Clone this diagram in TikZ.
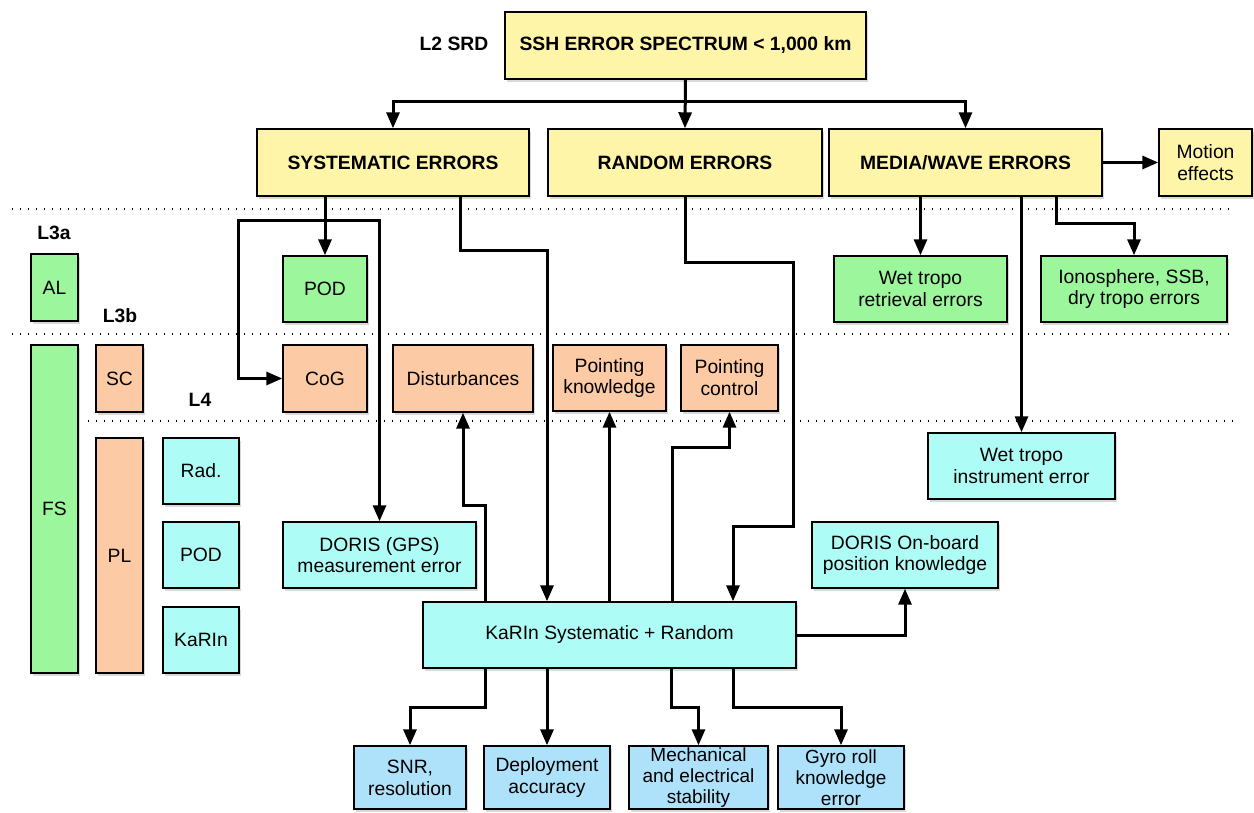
\documentclass[tikz,border=0pt]{standalone}
\usepackage{fontspec}
\setmainfont{Liberation Sans}
\usetikzlibrary{arrows.meta,shadows,calc}
\definecolor{yel}{RGB}{255,245,168}
\definecolor{grn}{RGB}{156,247,156}
\definecolor{pch}{RGB}{252,203,166}
\definecolor{cyn}{RGB}{174,252,246}
\definecolor{blu}{RGB}{174,226,250}
\newcommand\bxat[7]{\node[bx,#6,minimum width={(#4-#2)*1pt},minimum height={(#5-#3)*1pt}] (#1) at ({(#2+#4)/2},{(#3+#5)/2}) {#7};}
\begin{document}
\begin{tikzpicture}[x=1pt,y=-1pt,
  bx/.style={draw=black,line width=1.4pt,inner sep=0pt,align=center,
    font=\fontsize{19.3}{21.8}\selectfont,
    drop shadow={opacity=0.3,shadow xshift=2pt,shadow yshift=-3pt}},
  hd/.style={font=\fontsize{19.3}{23}\selectfont\bfseries},
  lbl/.style={font=\fontsize{19.3}{23}\selectfont\bfseries,inner sep=0pt},
  conn/.style={line width=3pt,line join=miter,line cap=butt},
  arr/.style={conn,-{Triangle[length=16pt,width=13pt]}},
  arrb/.style={conn,{Triangle[length=16pt,width=13pt]}-{Triangle[length=16pt,width=13pt]}},
  dots/.style={line width=1.4pt,dash pattern=on 1.4pt off 6.6pt}]
\useasboundingbox (0,0) rectangle (1254,813);
% level separators
\draw[dots] (12,209) -- (1233,209);
\draw[dots] (12,334) -- (1233,334);
\draw[dots] (88,421) -- (1233,421);
% labels
\node[lbl] (l2) at (454,44) {L2 SRD};
\node[lbl] (l3a) at (54,233) {L3a};
\node[lbl] (l3b) at (120,316) {L3b};
\node[lbl] (l4) at (200,400) {L4};
% top level
\bxat{ssh}{505}{12}{866}{79}{fill=yel,hd}{SSH ERROR SPECTRUM < 1,000 km}
\bxat{sys}{257}{129}{529}{196}{fill=yel,hd}{SYSTEMATIC ERRORS}
\bxat{rnd}{548}{129}{822}{196}{fill=yel,hd}{RANDOM ERRORS}
\bxat{media}{829}{129}{1102}{196}{fill=yel,hd}{MEDIA/WAVE ERRORS}
\bxat{motion}{1159}{129}{1252}{196}{fill=yel}{Motion\\effects}
% L3a
\bxat{al}{31}{254}{78}{321}{fill=grn}{AL}
\bxat{pod1}{283}{256}{367}{322}{fill=grn}{POD}
\bxat{wetret}{834}{256}{1007}{322}{fill=grn}{Wet tropo\\retrieval errors}
\bxat{iono}{1041}{256}{1227}{322}{fill=grn}{Ionosphere, SSB,\\dry tropo errors}
% L3b
\bxat{fs}{31}{345}{78}{673}{fill=grn}{FS}
\bxat{sc}{96}{345}{143}{412}{fill=pch}{SC}
\bxat{pl}{96}{438}{143}{673}{fill=pch}{PL}
\bxat{cog}{283}{345}{367}{412}{fill=pch}{CoG}
\bxat{dist}{393}{345}{533}{412}{fill=pch}{Disturbances}
\bxat{pk}{553}{345}{666}{411}{fill=pch}{Pointing\\knowledge}
\bxat{pc}{681}{345}{778}{411}{fill=pch}{Pointing\\control}
% L4
\bxat{rad}{163}{438}{239}{504}{fill=cyn}{Rad.}
\bxat{pod2}{163}{522}{239}{588}{fill=cyn}{POD}
\bxat{kar}{163}{607}{239}{673}{fill=cyn}{KaRIn}
\bxat{wetins}{928}{433}{1115}{499}{fill=cyn}{Wet tropo\\instrument error}
\bxat{doris}{283}{522}{476}{588}{fill=cyn}{DORIS (GPS)\\measurement error}
\bxat{dob}{812}{522}{998}{588}{fill=cyn}{DORIS On-board\\position knowledge}
\bxat{karin}{423}{602}{796}{668}{fill=cyn}{KaRIn Systematic + Random}
\bxat{snr}{354}{746}{466}{809}{fill=blu}{SNR,\\resolution}
\bxat{dep}{484}{746}{610}{809}{fill=blu}{Deployment\\accuracy}
\bxat{mech}{629}{746}{768}{809}{fill=blu,font=\fontsize{19}{21}\selectfont}{Mechanical\\and electrical\\stability}
\bxat{gyro}{778}{746}{904}{809}{fill=blu,font=\fontsize{19}{21}\selectfont}{Gyro roll\\knowledge\\error}
% connectors: top
\coordinate (j) at (685,102);
\draw[arr] (ssh.south) -- (rnd.north);
\draw[arr] (j) -| (sys.north);
\draw[arr] (j) -| (media.north);
% systematic
\draw[arr] (sys.south -| pod1.north) -- (pod1.north);
\coordinate (c1) at (238,221);
\draw[arrb] (cog.west) -| (c1) -| (doris.north);
\coordinate (s1) at (460,251);
\coordinate (s2) at (547,251);
\draw[arr] (sys.south -| s1) -- (s1) -- (s2) -- (s2 |- karin.north);
% random
\coordinate (r1) at (793,263);
\coordinate (r2) at (733,526);
\draw[arr] (rnd.south) |- (r1) |- (r2) -- (r2 |- karin.north);
% media
\draw[arr] (media.south -| wetret.north) -- (wetret.north);
\draw[arr] (media.south -| wetins.north) -- (wetins.north);
\coordinate (m1) at (1056,224);
\draw[arr] (media.south -| m1) -- (m1) -| (iono.north);
\draw[arr] (media.east) -- (motion.west);
% karin upward
\coordinate (d1) at (485,505);
\draw[arr] (karin.north -| d1) -- (d1) -| (dist.south);
\draw[arr] (karin.north -| pk.south) -- (pk.south);
\coordinate (p1) at (672,447);
\draw[arr] (karin.north -| p1) -- (p1) -| (pc.south);
\draw[arr] (karin.east) -| (dob.south);
% karin downward
\coordinate (b1) at (485,707);
\draw[arr] (karin.south -| b1) -- (b1) -| (snr.north);
\draw[arr] (karin.south -| dep.north) -- (dep.north);
\coordinate (b3) at (671,707);
\draw[arr] (karin.south -| b3) -- (b3) -| (mech.north);
\coordinate (b4) at (733,707);
\draw[arr] (karin.south -| b4) -- (b4) -| (gyro.north);
\end{tikzpicture}
\end{document}
